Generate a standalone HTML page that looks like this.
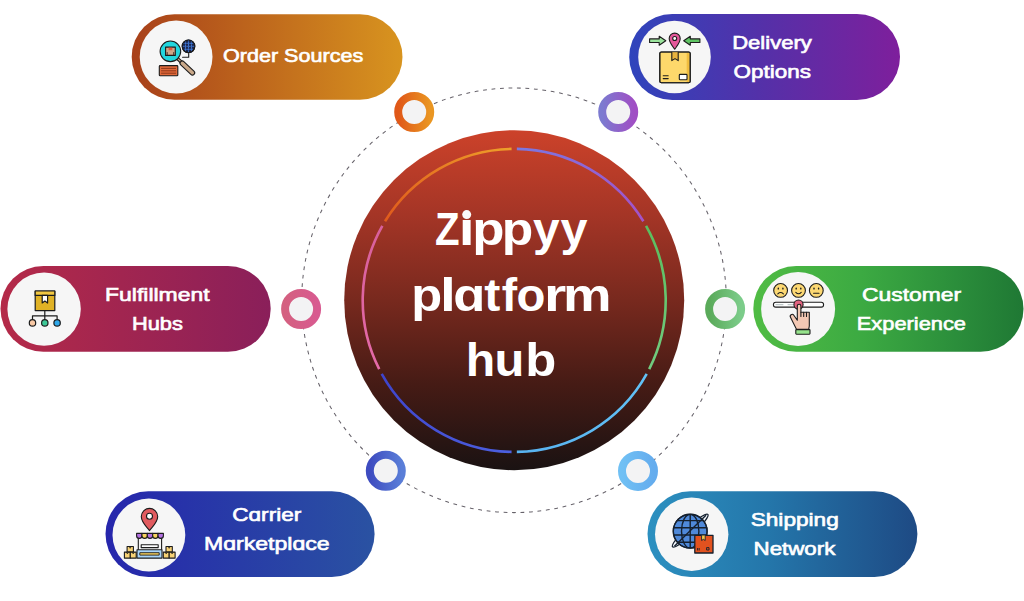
<!DOCTYPE html>
<html><head><meta charset="utf-8">
<style>
html,body{margin:0;padding:0;background:#fff;width:1024px;height:601px;overflow:hidden}
svg{display:block}
text{font-family:"Liberation Sans",sans-serif;font-weight:bold;fill:#fff}
text.p{font-weight:normal;stroke:#fff;stroke-width:0.65px;paint-order:stroke}
</style></head>
<body>
<svg width="1024" height="601" viewBox="0 0 1024 601">
<defs>
  <linearGradient id="gOrder" x1="0" y1="0" x2="1" y2="0">
    <stop offset="0" stop-color="#a8401a"/><stop offset="1" stop-color="#d8941f"/>
  </linearGradient>
  <linearGradient id="gDeliv" x1="0" y1="0" x2="1" y2="0">
    <stop offset="0" stop-color="#2f44bc"/><stop offset="0.5" stop-color="#5530a8"/><stop offset="1" stop-color="#7e1f9c"/>
  </linearGradient>
  <linearGradient id="gFulf" x1="0" y1="0" x2="1" y2="0">
    <stop offset="0" stop-color="#b42a48"/><stop offset="1" stop-color="#8a1f5a"/>
  </linearGradient>
  <linearGradient id="gCust" x1="0" y1="0" x2="1" y2="0">
    <stop offset="0" stop-color="#50bc44"/><stop offset="0.4" stop-color="#3caa42"/><stop offset="0.75" stop-color="#2b8e3b"/><stop offset="1" stop-color="#1f7834"/>
  </linearGradient>
  <linearGradient id="gCarr" x1="0" y1="0" x2="1" y2="0">
    <stop offset="0" stop-color="#2626ac"/><stop offset="1" stop-color="#2a52a2"/>
  </linearGradient>
  <linearGradient id="gShip" x1="0" y1="0" x2="1" y2="0">
    <stop offset="0" stop-color="#2c90c0"/><stop offset="0.45" stop-color="#2476aa"/><stop offset="1" stop-color="#1e4a84"/>
  </linearGradient>
  <linearGradient id="gHub" x1="0" y1="0" x2="0" y2="1">
    <stop offset="0" stop-color="#cc422a"/><stop offset="0.25" stop-color="#a43526"/><stop offset="0.5" stop-color="#78291e"/><stop offset="0.75" stop-color="#451b15"/><stop offset="1" stop-color="#1a1212"/>
  </linearGradient>
  <linearGradient id="rOr" x1="0" y1="0" x2="1" y2="0"><stop offset="0" stop-color="#e05818"/><stop offset="1" stop-color="#ea9622"/></linearGradient>
  <linearGradient id="rPu" x1="0" y1="0" x2="1" y2="0"><stop offset="0" stop-color="#7c7ad0"/><stop offset="1" stop-color="#a04ec4"/></linearGradient>
  <linearGradient id="rPk" x1="0" y1="0" x2="1" y2="0"><stop offset="0" stop-color="#d46080"/><stop offset="1" stop-color="#d85a90"/></linearGradient>
  <linearGradient id="rGr" x1="0" y1="0" x2="1" y2="0"><stop offset="0" stop-color="#5aaa5a"/><stop offset="1" stop-color="#7ccc8a"/></linearGradient>
  <linearGradient id="rBl" x1="0" y1="0" x2="1" y2="0"><stop offset="0" stop-color="#3e4cc0"/><stop offset="1" stop-color="#5a7ed8"/></linearGradient>
  <linearGradient id="rLb" x1="0" y1="0" x2="1" y2="0"><stop offset="0" stop-color="#70c0f4"/><stop offset="1" stop-color="#64acee"/></linearGradient>
  <clipPath id="globeClip"><circle cx="690.2" cy="531.2" r="16.9"/></clipPath>
</defs>

<!-- dashed orbit -->
<circle cx="514" cy="300.3" r="212.3" fill="none" stroke="#66626a" stroke-width="1.05" stroke-dasharray="3.8 4.7"/>

<!-- hub -->
<circle cx="514.2" cy="300.2" r="170" fill="url(#gHub)"/>
<g id="arcs">
<linearGradient id="rOrA" gradientUnits="userSpaceOnUse" x1="385.0" y1="221.2" x2="511.6" y2="148.9"><stop offset="0" stop-color="#e05a1c"/><stop offset="1" stop-color="#eea02a"/></linearGradient>
<path d="M385.03 221.24A151.5 151.5 0 0 1 511.56 148.92" fill="none" stroke="url(#rOrA)" stroke-width="2.6"/>
<linearGradient id="rPuA" gradientUnits="userSpaceOnUse" x1="516.8" y1="148.9" x2="643.4" y2="221.2"><stop offset="0" stop-color="#7a78e2"/><stop offset="1" stop-color="#a452c8"/></linearGradient>
<path d="M516.84 148.92A151.5 151.5 0 0 1 643.37 221.24" fill="none" stroke="url(#rPuA)" stroke-width="2.6"/>
<linearGradient id="rGrA" gradientUnits="userSpaceOnUse" x1="646.1" y1="225.8" x2="649.2" y2="369.2"><stop offset="0" stop-color="#5abe5e"/><stop offset="1" stop-color="#72cc80"/></linearGradient>
<path d="M646.06 225.80A151.5 151.5 0 0 1 649.19 369.18" fill="none" stroke="url(#rGrA)" stroke-width="2.6"/>
<linearGradient id="rLbA" gradientUnits="userSpaceOnUse" x1="646.7" y1="373.8" x2="516.8" y2="451.9"><stop offset="0" stop-color="#62c2f6"/><stop offset="1" stop-color="#58b2f0"/></linearGradient>
<path d="M646.70 373.85A151.5 151.5 0 0 1 516.84 451.88" fill="none" stroke="url(#rLbA)" stroke-width="2.6"/>
<linearGradient id="rBlA" gradientUnits="userSpaceOnUse" x1="511.6" y1="451.9" x2="381.7" y2="373.8"><stop offset="0" stop-color="#4c60e0"/><stop offset="1" stop-color="#3e44cc"/></linearGradient>
<path d="M511.56 451.88A151.5 151.5 0 0 1 381.70 373.85" fill="none" stroke="url(#rBlA)" stroke-width="2.6"/>
<linearGradient id="rPkA" gradientUnits="userSpaceOnUse" x1="379.2" y1="369.2" x2="382.3" y2="225.8"><stop offset="0" stop-color="#e46aa8"/><stop offset="1" stop-color="#d8609c"/></linearGradient>
<path d="M379.21 369.18A151.5 151.5 0 0 1 382.34 225.80" fill="none" stroke="url(#rPkA)" stroke-width="2.6"/>
</g>

<!-- pills -->
<rect x="131.7" y="14.2" width="270.8" height="85.5" rx="42.75" fill="url(#gOrder)"/>
<circle cx="176.1" cy="57" r="36.4" fill="#f6f6f6"/>
<text x="223.0" y="61.5" font-size="19" textLength="140.2" lengthAdjust="spacingAndGlyphs" class="p">Order Sources</text>

<rect x="629.2" y="14" width="270.8" height="86" rx="43" fill="url(#gDeliv)"/>
<circle cx="674.5" cy="57" r="36.3" fill="#f6f6f6"/>
<text x="732.2" y="48.9" font-size="19" textLength="79.6" lengthAdjust="spacingAndGlyphs" class="p">Delivery</text>
<text x="733.6" y="77.9" font-size="19" textLength="77.3" lengthAdjust="spacingAndGlyphs" class="p">Options</text>

<rect x="0.5" y="266" width="270.2" height="85.7" rx="42.85" fill="url(#gFulf)"/>
<circle cx="44.1" cy="309.1" r="36.7" fill="#f6f6f6"/>
<text x="105.1" y="301.3" font-size="19" textLength="104.5" lengthAdjust="spacingAndGlyphs" class="p">Fulfillment</text>
<text x="132.0" y="330.2" font-size="19" textLength="50.9" lengthAdjust="spacingAndGlyphs" class="p">Hubs</text>

<rect x="753.3" y="266" width="270.2" height="85.8" rx="42.9" fill="url(#gCust)"/>
<circle cx="798.1" cy="309" r="37" fill="#f6f6f6"/>
<text x="862.0" y="301.2" font-size="19" textLength="99.2" lengthAdjust="spacingAndGlyphs" class="p">Customer</text>
<text x="856.8" y="330.2" font-size="19" textLength="109.2" lengthAdjust="spacingAndGlyphs" class="p">Experience</text>

<rect x="105.5" y="491.3" width="269.1" height="85.6" rx="42.8" fill="url(#gCarr)"/>
<circle cx="148.9" cy="535" r="36.4" fill="#f6f6f6"/>
<text x="232.3" y="521.1" font-size="19" textLength="68.9" lengthAdjust="spacingAndGlyphs" class="p">Cɑrrier</text>
<text x="204.0" y="550.4" font-size="19" textLength="125.7" lengthAdjust="spacingAndGlyphs" class="p">Mɑrketplɑce</text>

<rect x="647.5" y="491.3" width="269.9" height="85.6" rx="42.8" fill="url(#gShip)"/>
<circle cx="691.7" cy="534.2" r="36.7" fill="#f6f6f6"/>
<text x="750.7" y="526.0" font-size="19" textLength="88.1" lengthAdjust="spacingAndGlyphs" class="p">Shipping</text>
<text x="753.6" y="554.9" font-size="19" textLength="81.7" lengthAdjust="spacingAndGlyphs" class="p">Network</text>

<!-- ICONS -->
<g id="icOrder" stroke="#1c1c1c" stroke-width="1.1" stroke-linejoin="round" stroke-linecap="round">
  <path d="M177.4 58.4 L182 62.8" stroke="#1c1c1c" stroke-width="3.4"/>
  <path d="M177.4 58.4 L182 62.8" stroke="#caa98a" stroke-width="1.3"/>
  <path d="M182.3 63.2 L192.4 72.8" stroke="#1c1c1c" stroke-width="5.6"/>
  <path d="M182.3 63.2 L192.4 72.8" stroke="#caa98a" stroke-width="3.4"/>
  <circle cx="170.4" cy="51.3" r="10.3" fill="#22d5dd"/>
  <rect x="165.6" y="47.1" width="9.7" height="8.3" fill="#cfa688"/>
  <rect x="168.6" y="47.6" width="3.7" height="2.6" fill="#e2583c" stroke="none"/>
  <path d="M167.2 52.5 V54.6 M173.7 52.5 V54.6" stroke-width="0.8"/>
  <circle cx="188.5" cy="46.3" r="6.3" fill="#1b2750"/>
  <path d="M183 43.3 H194 M182.4 46.3 H194.6 M183 49.3 H194 M185.5 40.6 V52 M188.5 40 V52.6 M191.5 40.6 V52" stroke="#3f78d6" stroke-width="0.9" stroke-dasharray="1.2 1"/>
  <circle cx="188.5" cy="46.3" r="6.3" fill="none"/>
  <path d="M182.6 57.2 H188.7 V53.6" fill="none"/>
  <rect x="159.3" y="65.6" width="18.5" height="10.1" rx="0.8" fill="#e16a3b"/>
  <path d="M161.5 68.4 H175.6 M161.5 70.8 H175.6 M161.5 73.2 H175.6" stroke="#7a2a10" stroke-width="0.8"/>
</g>

<g id="icDeliv" stroke="#1c1c1c" stroke-width="1.1" stroke-linejoin="round" stroke-linecap="round">
  <path d="M649.6 38.9 H659.2 V36.2 L665.8 40.7 L659.2 45.2 V42.5 H649.6 Z" fill="#9ae39c"/>
  <path d="M699.9 38.9 H690.3 V36.2 L683.7 40.7 L690.3 45.2 V42.5 H699.9 Z" fill="#5fc463"/>
  <path d="M674.7 49.2 C672.3 45.8 669.2 42.7 669.2 38.6 A5.5 5.5 0 0 1 680.2 38.6 C680.2 42.7 677.1 45.8 674.7 49.2 Z" fill="#e4579a"/>
  <circle cx="674.7" cy="38.5" r="2" fill="#fff"/>
  <rect x="659.8" y="52" width="30.4" height="30.8" rx="1.6" fill="#fdd86b"/>
  <path d="M688 53 V82" stroke="#f0bd3e" stroke-width="2.6" stroke-linecap="butt"/>
  <rect x="659.8" y="52" width="30.4" height="30.8" rx="1.6" fill="none"/>
  <path d="M671.8 52.2 V60.6 L675 58.6 L678.2 60.6 V52.2" fill="#e9b43f"/>
  <rect x="679.3" y="74.4" width="7.7" height="5.4" rx="0.8" fill="#fff"/>
  <path d="M663.2 75.8 H668.2 M663.2 78.6 H668.2" fill="none"/>
</g>

<g id="icFulf" stroke="#1c1c1c" stroke-width="1.2" stroke-linejoin="round">
  <path d="M44.8 310.6 V315.8 M32.5 319.6 V315.8 H57.1 V319.6 M44.8 315.8 V319.6" fill="none"/>
  <rect x="35.2" y="291" width="19.6" height="19.6" fill="#e0b225"/>
  <rect x="35.2" y="291" width="19.6" height="4.4" fill="#f2c842"/>
  <path d="M42.2 295.4 V303 L44.9 301 L47.6 303 V295.4 Z" fill="#fff"/>
  <circle cx="32.5" cy="322.9" r="3.2" fill="#f9c9a5"/>
  <circle cx="44.8" cy="322.9" r="3.2" fill="#3dc897"/>
  <circle cx="57.1" cy="322.9" r="3.2" fill="#2fa8ea"/>
</g>

<g id="icCust" stroke="#1c1c1c" stroke-width="1.1" stroke-linejoin="round" stroke-linecap="round">
  <circle cx="780.6" cy="290.4" r="6.9" fill="#fcd873"/>
  <circle cx="798.5" cy="290.4" r="6.9" fill="#fcd873"/>
  <circle cx="816.3" cy="290.4" r="6.9" fill="#fcd873"/>
  <path d="M778.3 288.2 V288.9 M782.9 288.2 V288.9 M796.2 288.2 V288.9 M800.8 288.2 V288.9 M814 288.2 V288.9 M818.6 288.2 V288.9" stroke-width="1.4"/>
  <path d="M777.8 293.8 Q780.6 291.2 783.4 293.8 M795.8 292.4 Q798.5 295.2 801.2 292.4 M813.6 293.2 H819" fill="none"/>
  <rect x="773.4" y="302.3" width="50.2" height="4.8" rx="2.4" fill="#fff"/>
  <path d="M776 304.7 H783 M788 304.7 H793" stroke="#9aa" stroke-width="0.8"/>
  <circle cx="798.5" cy="304.6" r="4.6" fill="#e2637f"/>
  <path d="M797.3 320.2 V306 A1.8 1.8 0 0 1 800.9 306 V312.2 H809.3 V326 L808.7 329.4 H796.6 L790.6 317.4 A1.9 1.9 0 0 1 793.8 315.2 Z" fill="#f3c8b4"/>
  <path d="M803.7 312.4 V316.4 M806.5 312.4 V316.4 M800.9 312.2 V316.4" fill="none"/>
  <rect x="795.8" y="329.6" width="14.2" height="4.6" rx="0.6" fill="#96e38c"/>
</g>

<g id="icCarr" stroke="#1c1c1c" stroke-width="1.1" stroke-linejoin="round">
  <path d="M149.5 530.6 C146.2 526.4 141.3 522.3 141.3 516.6 A8.2 8.2 0 0 1 157.7 516.6 C157.7 522.3 152.8 526.4 149.5 530.6 Z" fill="#e15b5f"/>
  <circle cx="149.5" cy="516.3" r="3" fill="#fff"/>
  <path d="M138.3 537 V550 M161.6 537 V550" fill="none"/>
  <rect x="141.2" y="544.8" width="17" height="2.8" fill="#fff"/>
  <path d="M136.60 533.4 h5.36 v2.3 a2.68 2.68 0 0 1 -5.36 0 Z" fill="#b470e2"/>
  <path d="M141.96 533.4 h5.36 v2.3 a2.68 2.68 0 0 1 -5.36 0 Z" fill="#f8d35e"/>
  <path d="M147.32 533.4 h5.36 v2.3 a2.68 2.68 0 0 1 -5.36 0 Z" fill="#b470e2"/>
  <path d="M152.68 533.4 h5.36 v2.3 a2.68 2.68 0 0 1 -5.36 0 Z" fill="#f8d35e"/>
  <path d="M158.04 533.4 h5.36 v2.3 a2.68 2.68 0 0 1 -5.36 0 Z" fill="#b470e2"/>
  <rect x="137" y="549.8" width="25" height="8.3" fill="#a9d5fa"/>
  <rect x="139.8" y="552.7" width="19.4" height="2.4" fill="#f6cf5c" stroke-width="0.9"/>
  <g fill="#f7d275">
   <rect x="127.1" y="546.5" width="6.3" height="5.6"/>
   <rect x="124.4" y="552.1" width="5.9" height="6"/>
   <rect x="130.3" y="552.1" width="5.9" height="6"/>
   <rect x="166" y="546.5" width="6.3" height="5.6"/>
   <rect x="163.3" y="552.1" width="5.9" height="6"/>
   <rect x="169.2" y="552.1" width="5.9" height="6"/>
  </g>
  <path d="M129.2 546.5 l1 1.8 l1 -1.8 M126.4 552.1 l1 1.8 l1 -1.8 M132.2 552.1 l1 1.8 l1 -1.8 M168.2 546.5 l1 1.8 l1 -1.8 M165.2 552.1 l1 1.8 l1 -1.8 M171.1 552.1 l1 1.8 l1 -1.8" fill="none" stroke-width="0.8"/>
</g>

<g id="icShip" stroke="#15202e" stroke-width="1.2" stroke-linejoin="round">
  <ellipse cx="690.2" cy="530.6" rx="24" ry="4.2" transform="rotate(-42.5 690.2 530.6)" fill="#eef2f8" stroke-width="1.3"/>
  <circle cx="690.2" cy="531.2" r="16.9" fill="#4f89d9"/>
  <g clip-path="url(#globeClip)" fill="none" stroke-width="1.4">
    <ellipse cx="690.2" cy="531.2" rx="8.7" ry="17"/>
    <path d="M690.2 514 V548.4 M672 520.6 H708 M672 527.8 H708 M672 535 H708 M672 542.2 H708"/>
  </g>
  <path d="M674.4 546.2 L706 515.3" fill="none" stroke-width="1.4"/>
  <circle cx="690.2" cy="531.2" r="16.9" fill="none" stroke-width="1.4"/>
  <rect x="694.8" y="535.3" width="18.2" height="17.7" fill="#e2521f" stroke-width="1.3"/>
  <path d="M701.6 535.5 V540.5 L703.4 539.3 L705.2 540.5 V535.5" fill="#f7c84a" stroke-width="0.9"/>
  <path d="M697.6 548 V550.5 M699.2 548 V550.5" fill="none" stroke-width="0.9"/>
  <rect x="706.6" y="547.6" width="2.4" height="2.4" fill="none" stroke-width="0.9"/>
</g>

<!-- small rings -->
<g>
<circle cx="414.2" cy="112" r="16" fill="#f3f3f4" stroke="url(#rOr)" stroke-width="8"/>
<circle cx="618.2" cy="112" r="16" fill="#f3f3f4" stroke="url(#rPu)" stroke-width="8"/>
<circle cx="301.1" cy="309" r="16" fill="#f3f3f4" stroke="url(#rPk)" stroke-width="8"/>
<circle cx="725.1" cy="309" r="16" fill="#f3f3f4" stroke="url(#rGr)" stroke-width="8"/>
<circle cx="385.8" cy="470.8" r="16" fill="#f3f3f4" stroke="url(#rBl)" stroke-width="8"/>
<circle cx="638" cy="470.9" r="16" fill="#f3f3f4" stroke="url(#rLb)" stroke-width="8"/>
</g>

<!-- hub text -->
<g fill="#fafafa">
<text x="435.00" y="244.9" font-size="46" textLength="24.56" lengthAdjust="spacingAndGlyphs">Z</text>
<text x="458.88" y="244.9" font-size="46" textLength="15.79" lengthAdjust="spacingAndGlyphs">ı</text>
<text x="472.22" y="244.9" font-size="46" textLength="32.24" lengthAdjust="spacingAndGlyphs">p</text>
<text x="501.70" y="244.9" font-size="46" textLength="31.52" lengthAdjust="spacingAndGlyphs">p</text>
<text x="533.03" y="244.9" font-size="46" textLength="26.63" lengthAdjust="spacingAndGlyphs">y</text>
<text x="560.42" y="244.9" font-size="46" textLength="27.04" lengthAdjust="spacingAndGlyphs">y</text>
<text x="411.16" y="310.6" font-size="46" textLength="30.91" lengthAdjust="spacingAndGlyphs">p</text>
<text x="439.93" y="310.6" font-size="46" textLength="15.79" lengthAdjust="spacingAndGlyphs">l</text>
<text x="453.24" y="310.6" font-size="46" textLength="32.12" lengthAdjust="spacingAndGlyphs">ɑ</text>
<text x="484.31" y="310.6" font-size="46" textLength="16.08" lengthAdjust="spacingAndGlyphs">t</text>
<text x="501.81" y="310.6" font-size="46" textLength="15.40" lengthAdjust="spacingAndGlyphs">f</text>
<text x="516.55" y="310.6" font-size="46" textLength="28.90" lengthAdjust="spacingAndGlyphs">o</text>
<text x="543.93" y="310.6" font-size="46" textLength="22.23" lengthAdjust="spacingAndGlyphs">r</text>
<text x="562.90" y="310.6" font-size="46" textLength="48.59" lengthAdjust="spacingAndGlyphs">m</text>
<text x="465.73" y="376.4" font-size="46" textLength="29.46" lengthAdjust="spacingAndGlyphs">h</text>
<text x="494.57" y="376.4" font-size="46" textLength="29.85" lengthAdjust="spacingAndGlyphs">u</text>
<text x="525.35" y="376.4" font-size="46" textLength="31.03" lengthAdjust="spacingAndGlyphs">b</text>
<circle cx="466.7" cy="214.6" r="4.5" fill="#fafafa"/>
</g>

</svg>
</body></html>
